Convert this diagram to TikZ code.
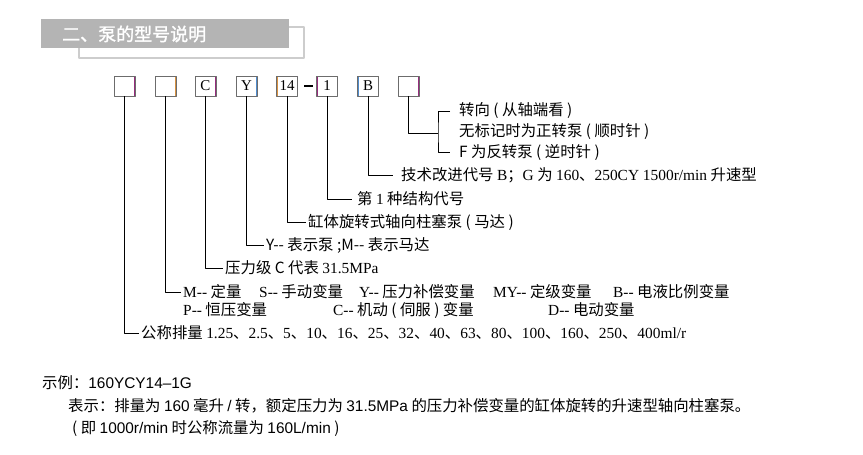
\documentclass[tikz,border=0pt]{standalone}
\usepackage{fontspec}
\setmainfont{Noto Sans CJK SC}
\newfontfamily\tms{Liberation Serif}
\newfontfamily\ari{Liberation Sans}
\newfontfamily\ttl[FakeBold=1.4]{Noto Sans CJK SC}
\definecolor{barfill}{RGB}{180,180,180}
\definecolor{barline}{RGB}{205,205,205}
\definecolor{eorange}{RGB}{215,145,65}
\definecolor{epurple}{RGB}{150,45,125}
\definecolor{eblue}{RGB}{80,140,205}
\newcommand{\dd}{-{}-}
\tikzset{
	codebox/.style 2 args={draw=gray!85!black, line width=0.8pt, minimum width=21pt, minimum height=20pt, inner sep=0pt,
		font=\tms\fontsize{15pt}{15pt}\selectfont,
		path picture={
			\draw[#1,line width=2pt] (path picture bounding box.south west)--(path picture bounding box.north west);
			\draw[#2,line width=2pt] (path picture bounding box.south east)--(path picture bounding box.north east);}},
	lbl/.style={anchor=west, inner ysep=0pt, inner xsep=2pt},
	rmk/.style={anchor=west, inner sep=0pt},
}
\begin{document}
\begin{tikzpicture}[x=1pt,y=-1pt, font=\fontsize{15.4pt}{18pt}\selectfont, line join=round]
	\useasboundingbox (0,0) rectangle (863,455);
	% --- 标题 ---
	\draw[barline, line width=2.2pt] (79,27) rectangle (304,58);
	\fill[barfill] (41,19) rectangle (289,48);
	\node[rmk, white] (title) at (62,34) {\ttl\fontsize{18pt}{18pt}\selectfont 二、泵的型号说明};
	
	% --- 型号方框 ---
	\node[codebox={eorange}{epurple}] (b1) at (124.5,86) {};
	\node[codebox={eorange}{eorange}] (b2) at (165.5,86) {};
	\node[codebox={eblue}{epurple}] (b3) at (205.5,86) {C};
	\node[codebox={epurple}{eblue}] (b4) at (246.5,86) {Y};
	\node[codebox={eorange}{epurple}] (b5) at (287,86) {14};
	\node[codebox={epurple}{eorange}] (b6) at (327,86) {1};
	\node[codebox={eblue}{eorange}] (b7) at (368,86) {B};
	\node[codebox={eblue}{epurple}] (b8) at (408.5,86) {};
	\draw[line width=1.8pt] ([xshift=6.5pt]b5.east)--([xshift=-3.5pt]b6.west);
	
	% --- 说明文字 ---
	\node[lbl, inner xsep=9pt] (t8a) at (450,111) {转向 ( 从轴端看 )};
	\node[lbl, inner xsep=9pt] (t8b) at (450,132) {无标记时为正转泵 ( 顺时针 )};
	\node[lbl, inner xsep=9pt] (t8c) at (450,152) {F 为反转泵 ( 逆时针 )};
	\node[lbl, inner xsep=8pt] (t7) at (393,175) {技术改进代号 {\tms B}；{\tms G} 为 {\tms 160}、{\tms 250CY 1500r/min} 升速型};
	\node[lbl, inner xsep=5pt] (t6) at (352,199) {第 {\tms 1} 种结构代号};
	\node[lbl] (t5) at (306,222) {缸体旋转式轴向柱塞泵 ( 马达 )};
	\node[lbl] (t4) at (264,245) {Y\dd{} 表示泵 ;M\dd{} 表示马达};
	\node[lbl] (t3) at (223,268) {压力级 C 代表 {\tms 31.5MPa}};
	\node[lbl] (t2) at (181,292) {{\tms M\dd} 定量};
	\node[rmk] (t2s) at (259,292) {{\tms S\dd} 手动变量};
	\node[rmk] (t2y) at (359,292) {{\tms Y\dd} 压力补偿变量};
	\node[rmk] (t2my) at (493,292) {{\tms MY\dd} 定级变量};
	\node[rmk] (t2b) at (613,292) {{\tms B\dd} 电液比例变量};
	\node[lbl] (t2p) at (181,310) {{\tms P\dd} 恒压变量};
	\node[rmk] (t2c) at (333,310) {{\tms C\dd} 机动 ( 伺服 ) 变量};
	\node[rmk] (t2d) at (548,310) {{\tms D\dd} 电动变量};
	\node[lbl] (t1) at (139,333) {公称排量 {\tms 1.25}、{\tms 2.5}、{\tms 5}、{\tms 10}、{\tms 16}、{\tms 25}、{\tms 32}、{\tms 40}、{\tms 63}、{\tms 80}、{\tms 100}、{\tms 160}、{\tms 250}、{\tms 400ml/r}};
	
	% --- 引线 ---
	\coordinate (sp) at (438,133);
	\draw[line width=0.9pt] (b8.south) |- (sp);
	\draw[line width=0.9pt] (t8a.west) -| (sp) |- (t8c.west);
	\draw[line width=0.9pt] (b7.south) |- (t7.west);
	\draw[line width=0.9pt] (b6.south) |- (t6.west);
	\draw[line width=0.9pt] (b5.south) |- (t5.west);
	\draw[line width=0.9pt] (b4.south) |- (t4.west);
	\draw[line width=0.9pt] (b3.south) |- (t3.west);
	\draw[line width=0.9pt] (b2.south) |- (t2.west);
	\draw[line width=0.9pt] (b1.south) |- (t1.west);
	
	% --- 示例 ---
	\node[rmk] (e1) at (42,383) {示例：{\ari 160YCY14–1G}};
	\node[rmk] (e2) at (68,406) {表示：排量为 {\ari 160} 毫升 {\ari /} 转，额定压力为 {\ari 31.5MPa} 的压力补偿变量的缸体旋转的升速型轴向柱塞泵。};
	\node[rmk] (e3) at (72,429) {( 即 {\ari 1000r/min} 时公称流量为 {\ari 160L/min} )};
\end{tikzpicture}
\end{document}
